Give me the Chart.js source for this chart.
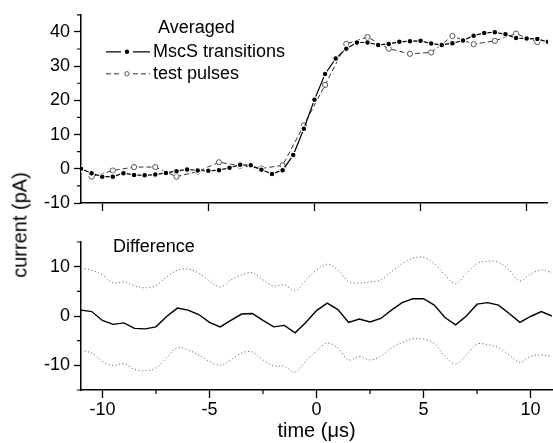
<!DOCTYPE html>
<html>
<head>
<meta charset="utf-8">
<script src="https://cdn.jsdelivr.net/npm/chart.js@4.4.1/dist/chart.umd.min.js"></script>
<style>
  body { margin: 0; background: #fff; }
  #wrap { position: relative; width: 553px; height: 443px; overflow: hidden; }
  #topChart { position: absolute; left: 0; top: 0; }
  #bottomChart { position: absolute; left: 0; top: 220px; }
  #ytitle {
    position: absolute; left: 20px; top: 225px;
    transform: translate(-50%, -50%) rotate(-90deg);
    font: 20px "Liberation Sans", Arial, sans-serif; white-space: nowrap; color: #000;
  }
</style>
</head>
<body>
<div id="wrap">
  <canvas id="topChart" width="553" height="220"></canvas>
  <canvas id="bottomChart" width="553" height="223"></canvas>
  <div id="ytitle">current (pA)</div>
</div>
<script>
// time axis (µs): transitions sampled every 0.5, test pulses on the half-integers
var timeFine = [-11, -10.5, -10, -9.5, -9, -8.5, -8, -7.5, -7, -6.5, -6, -5.5, -5, -4.5, -4, -3.5, -3, -2.5, -2, -1.5, -1, -0.5,
  0, 0.5, 1, 1.5, 2, 2.5, 3, 3.5, 4, 4.5, 5, 5.5, 6, 6.5, 7, 7.5, 8, 8.5, 9, 9.5, 10, 10.5, 11]
var timePulse = [-10.5, -9.5, -8.5, -7.5, -6.5, -5.5, -4.5, -3.5, -2.5, -1.5, -0.5, 0.5, 1.5, 2.5, 3.5, 4.5, 5.5, 6.5, 7.5, 8.5, 9.5, 10.5]

// top panel: averaged currents (pA)
var mscsAvg = [0, -1.3, -2.3, -2.3, -1.3, -1.8, -1.9, -1.7, -1.2, -0.7, -0.2, -0.5, -0.6, -0.4, 0.3, 1.2, 1.0, -0.3, -1.5, -0.4,
  4.0, 11.7, 20.2, 27.7, 32.2, 35.1, 36.9, 36.9, 36.2, 36.5, 37.1, 37.3, 37.4, 36.6, 36.2, 36.7, 37.5, 38.9, 39.7, 39.9,
  39.3, 38.2, 38.1, 37.9, 37.1]
var testAvg = [-2.3, -0.5, 0.5, 0.5, -2.3, -0.8, 1.9, 0.9, 0.1, 1.0, 12.7, 24.5, 36.5, 38.5, 35.1, 33.6, 34.0, 38.8, 36.4, 37.4, 39.5, 37.0]

// bottom panel: difference and its envelope (pA)
var diff = [1.2, 0.9, -0.9, -1.7, -1.4, -2.5, -2.6, -2.2, -0.1, 1.6, 1.2, 0.3, -1.3, -2.2, -0.9, 0.4, 0.5, -0.9, -2.2, -1.9,
  -3.4, -1.3, 1.1, 2.6, 1.3, -1.3, -0.6, -1.2, -0.5, 1.2, 2.7, 3.5, 3.5, 2.2, -0.3, -1.8, 0, 2.4, 2.7, 2.2,
  0.5, -1.3, -0.1, 0.9, 0]
var diffUpper = [9.6, 9.3, 8.3, 6.7, 6.9, 6.1, 5.7, 6.2, 7.9, 9.3, 9.5, 8.7, 7.1, 5.9, 7.3, 8.3, 8.8, 7.3, 6.1, 6.3,
  5.1, 7.3, 9.3, 10.5, 9.3, 6.9, 6.7, 6.9, 7.3, 9.0, 10.6, 11.7, 11.9, 10.6, 8.3, 6.6, 8.6, 10.6, 11.1, 10.9,
  9.3, 7.1, 8.5, 9.3, 8.8]
var diffLower = [-7.0, -7.5, -9.2, -10.0, -9.7, -10.8, -11.1, -10.5, -8.5, -6.4, -6.9, -7.9, -9.2, -10.0, -8.9, -7.5, -7.3, -8.9, -10.1, -10.2,
  -11.4, -9.1, -7.1, -5.5, -6.5, -8.9, -8.2, -8.9, -8.2, -6.5, -5.4, -4.6, -4.7, -5.6, -8.2, -9.7, -7.9, -5.7, -5.8, -6.4,
  -7.9, -9.4, -8.2, -7.9, -8.2]

// ticks
var xMajor = [-10, -5, 0, 5, 10]
var xMinorBottom = [-7.5, -2.5, 2.5, 7.5]
var topYMajor = [-10, 0, 10, 20, 30, 40]
var topYMinor = [-5, 5, 15, 25, 35, 45]
var bottomYMajor = [-10, 0, 10]
var bottomYMinor = [-15, -5, 5, 15]

var FONT = '"Liberation Sans", Arial, sans-serif'
Chart.defaults.font.family = FONT
Chart.defaults.color = '#000'

function xy(xs, ys) {
    return xs.map(function (x, i) { return {x: x, y: ys[i]} })
}

function fixedTicks(values) {
    return function (scale) { scale.ticks = values.map(function (v) { return {value: v} }) }
}

// short minor tick marks on the outside of the axes
const minorTicks = {
    id: 'minorTicks',
    afterDraw(chart, args, opts) {
        var ctx = chart.ctx, a = chart.chartArea
        ctx.save()
        ctx.strokeStyle = '#000'
        ctx.lineWidth = 1.2
        ctx.beginPath();
        (opts.x || []).forEach(function (v) {
            var px = chart.scales.x.getPixelForValue(v)
            ctx.moveTo(px, a.bottom); ctx.lineTo(px, a.bottom + 4)
        });
        (opts.y || []).forEach(function (v) {
            var py = chart.scales.y.getPixelForValue(v)
            ctx.moveTo(a.left, py); ctx.lineTo(a.left - 4, py)
        })
        ctx.stroke()
        ctx.restore()
    }
}

// panel caption and the little legend
const panelText = {
    id: 'panelText',
    afterDraw(chart, args, opts) {
        var ctx = chart.ctx, a = chart.chartArea
        ctx.save()
        ctx.font = '18px ' + FONT
        ctx.fillStyle = '#000'
        ctx.textBaseline = 'middle'
        if (opts.title) ctx.fillText(opts.title.text, a.left + opts.title.dx, a.top + opts.title.dy)
        ;(opts.entries || []).forEach(function (e) {
            var ds = chart.data.datasets[e.dataset]
            var y = a.top + e.dy, x0 = a.left + e.dx, mid = x0 + 21
            ctx.strokeStyle = ds.borderColor
            ctx.lineWidth = ds.borderWidth
            ctx.setLineDash(ds.borderDash || [])
            ctx.beginPath()
            ctx.moveTo(x0, y); ctx.lineTo(mid - 6, y)
            ctx.moveTo(mid + 6, y); ctx.lineTo(x0 + 44, y)
            ctx.stroke()
            ctx.setLineDash([])
            ctx.beginPath()
            ctx.arc(mid, y, e.r, 0, Math.PI * 2)
            ctx.fillStyle = e.fill
            ctx.fill()
            if (e.stroke) { ctx.strokeStyle = e.stroke; ctx.lineWidth = 1; ctx.stroke() }
            ctx.fillStyle = '#000'
            ctx.fillText(ds.label, x0 + 47, y)
        })
        ctx.restore()
    }
}

function axisX(extra) {
    return Object.assign({
        type: 'linear', min: -11, max: 11,
        afterBuildTicks: fixedTicks(xMajor),
        grid: {drawOnChartArea: false, tickLength: 8, tickColor: '#000', tickWidth: 1.3},
        border: {color: '#000', width: 1.5}
    }, extra)
}

function axisY(min, max, majors) {
    return {
        min: min, max: max,
        afterBuildTicks: fixedTicks(majors),
        ticks: {font: {size: 18}, padding: 4, color: '#000'},
        grid: {drawOnChartArea: false, tickLength: 7, tickColor: '#000', tickWidth: 1.3},
        border: {color: '#000', width: 1.5},
        afterFit: function (s) { s.width = 81 }
    }
}

new Chart(document.getElementById('topChart'), {
    type: 'line',
    data: {
        datasets: [{
            label: 'MscS transitions',
            data: xy(timeFine, mscsAvg),
            borderColor: '#000', borderWidth: 1.2,
            pointRadius: 2.8, pointBackgroundColor: '#000', pointBorderColor: '#fff', pointBorderWidth: 1.1
        }, {
            label: 'test pulses',
            data: xy(timePulse, testAvg),
            borderColor: '#333', borderWidth: 1, borderDash: [5, 3],
            pointRadius: 2.6, pointBackgroundColor: '#fff', pointBorderColor: '#555', pointBorderWidth: 1
        }]
    },
    options: {
        responsive: false, animation: false, devicePixelRatio: 1,
        layout: {padding: {top: 12, right: 1, left: 0, bottom: 0}},
        plugins: {
            legend: {display: false}, tooltip: {enabled: false},
            minorTicks: {y: topYMinor},
            panelText: {
                title: {text: 'Averaged', dx: 77, dy: 13},
                entries: [
                    {dataset: 0, dx: 25, dy: 37, r: 2.2, fill: '#000'},
                    {dataset: 1, dx: 25, dy: 59, r: 2.2, fill: '#fff', stroke: '#555'}
                ]
            }
        },
        scales: {
            x: axisX({ticks: {display: false}, afterFit: function (s) { s.height = 17 }}),
            y: axisY(-10, 45, topYMajor)
        }
    },
    plugins: [minorTicks, panelText]
})

new Chart(document.getElementById('bottomChart'), {
    type: 'line',
    data: {
        datasets: [{
            label: 'Difference',
            data: xy(timeFine, diff),
            borderColor: '#000', borderWidth: 1.4, pointRadius: 0
        }, {
            label: 'upper',
            data: xy(timeFine, diffUpper),
            borderColor: '#555', borderWidth: 1, borderDash: [1, 2.5], pointRadius: 0, tension: 0.35
        }, {
            label: 'lower',
            data: xy(timeFine, diffLower),
            borderColor: '#555', borderWidth: 1, borderDash: [1, 2.5], pointRadius: 0, tension: 0.35
        }]
    },
    options: {
        responsive: false, animation: false, devicePixelRatio: 1,
        layout: {padding: {top: 22, right: 1, left: 0, bottom: 0}},
        plugins: {
            legend: {display: false}, tooltip: {enabled: false},
            minorTicks: {x: xMinorBottom, y: bottomYMinor},
            panelText: {title: {text: 'Difference', dx: 32, dy: 5}}
        },
        scales: {
            x: axisX({
                ticks: {font: {size: 18}, padding: 1, color: '#000', maxRotation: 0},
                title: {display: true, text: 'time (\u03bcs)', font: {size: 20}, padding: {top: 0, bottom: 0}, color: '#000'},
                afterFit: function (s) { s.height = 53 }
            }),
            y: axisY(-15, 15, bottomYMajor)
        }
    },
    plugins: [minorTicks, panelText]
})
</script>
</body>
</html>
